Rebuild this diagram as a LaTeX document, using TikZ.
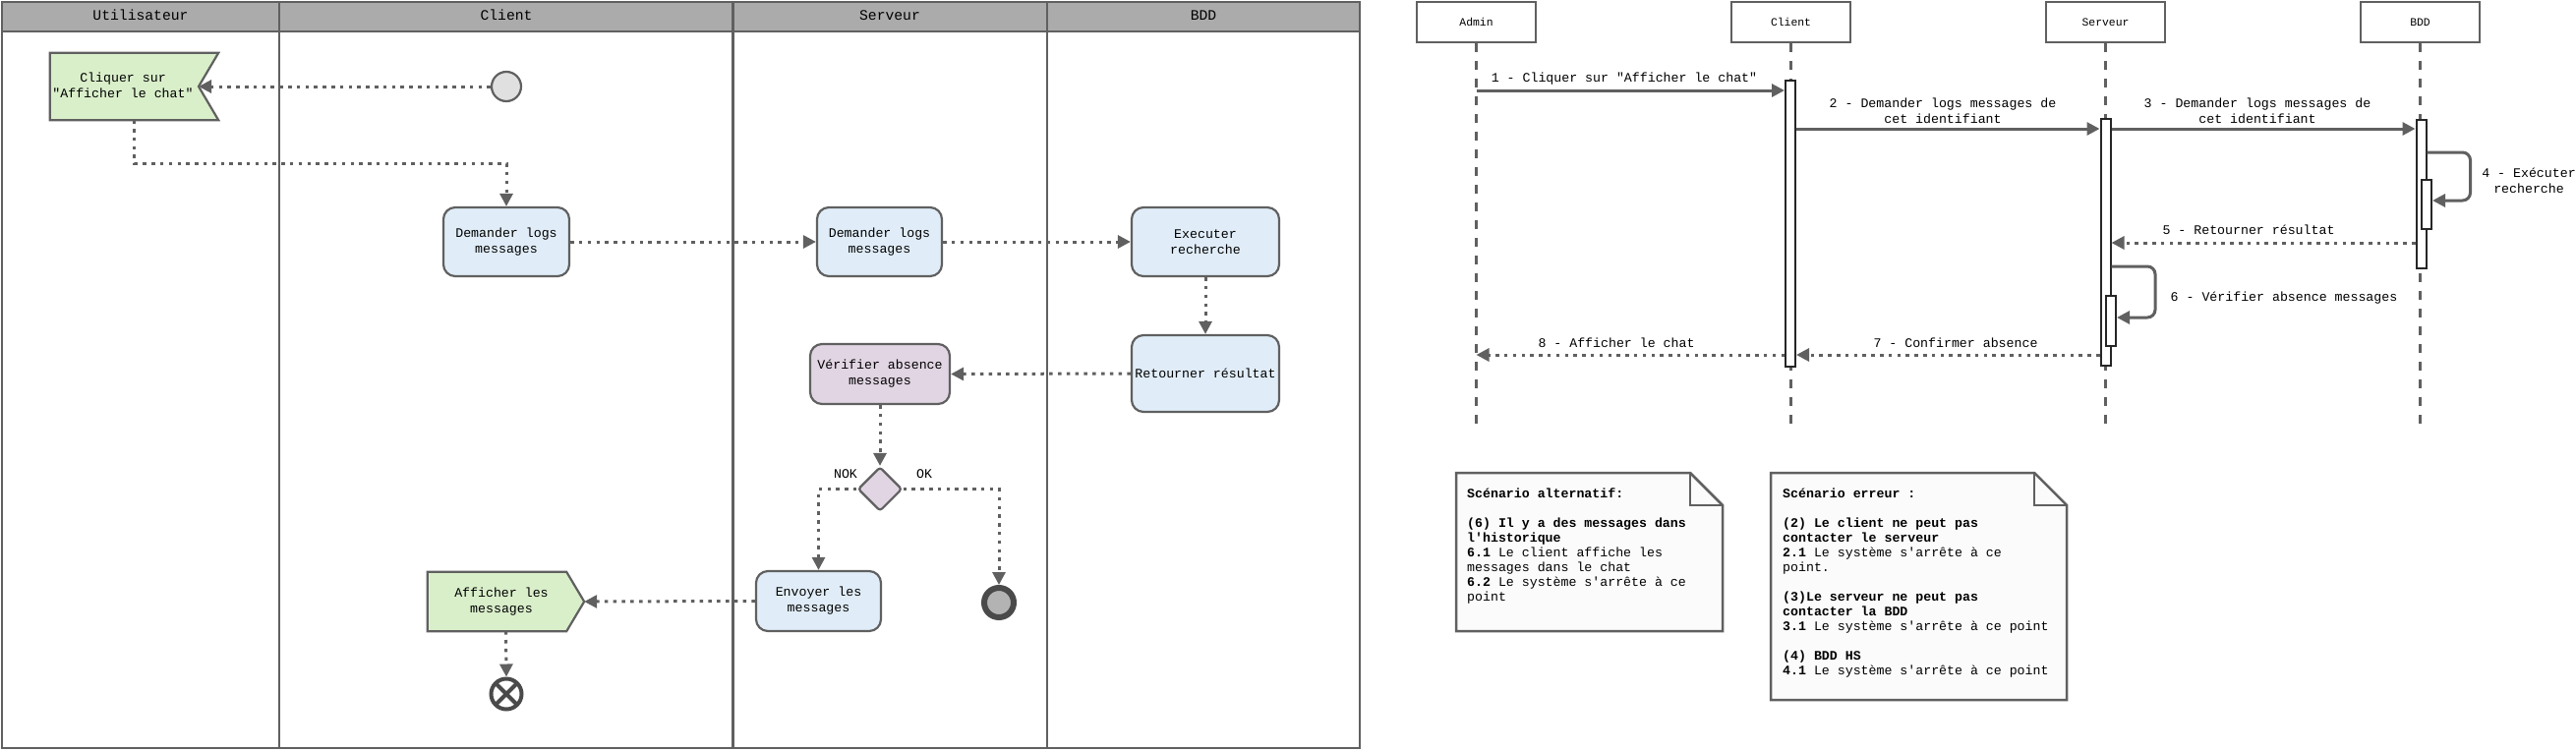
\documentclass[tikz,border=0pt]{standalone}
\usepackage{fontspec}
\newfontfamily\mono{Liberation Mono}
\usetikzlibrary{arrows.meta,shapes.geometric}
\definecolor{ln}{HTML}{606060}
\definecolor{hdr}{HTML}{ABABAB}
\definecolor{grn}{HTML}{D9EFCA}
\definecolor{blu}{HTML}{E0EDF8}
\definecolor{pur}{HTML}{E1D5E3}
\definecolor{stc}{HTML}{E0E0E0}
\definecolor{endc}{HTML}{B3B3B3}
\definecolor{dk}{HTML}{4A4A4A}
\definecolor{notef}{HTML}{FBFBFB}
\begin{document}
\begin{tikzpicture}[x=1pt,y=-1pt,
  every node/.style={font=\mono\fontsize{13.25}{16}\selectfont, text=black},
  lane/.style={draw=ln, line width=2.5pt},
  hdrtxt/.style={font=\mono\fontsize{14.7}{16}\selectfont},
  actbox/.style={rectangle, rounded corners=12pt, draw=ln, line width=2.2pt, fill=blu, align=center, inner sep=0pt},
  gflag/.style={draw=ln, line width=2.2pt, fill=grn},
  flow/.style={draw=ln, line width=3pt, dash pattern=on 3.5pt off 5.3pt, -{Triangle[length=13pt,width=13pt]}},
  part/.style={rectangle, draw=ln, line width=2.5pt, fill=white, minimum width=121pt, minimum height=41pt, inner sep=0pt, font=\mono\fontsize{11.4}{13}\selectfont},
  life/.style={draw=ln, line width=3pt, dash pattern=on 9pt off 9pt},
  bar/.style={rectangle, draw=black!85, fill=white, line width=2pt, minimum width=10pt, inner sep=0pt},
  msg/.style={draw=ln, line width=3pt, -{Triangle[length=13pt,width=13pt]}},
  ret/.style={msg, dash pattern=on 3.5pt off 5.3pt},
  lbl/.style={inner sep=0pt, text height=9pt, text depth=3pt},
  mlbl/.style={inner sep=0pt, align=center},
  notebox/.style={draw=ln, line width=2.5pt, fill=notef},
  notetxt/.style={anchor=base west, inner sep=0pt, font=\mono\fontsize{13.25}{15}\selectfont}
]
\useasboundingbox (0,0) rectangle (2620,763);

% ================= Swimlanes =================
\fill[hdr] (2,2) rectangle (1383,32);
\draw[lane] (2,2) rectangle (1383,761);
\draw[lane] (2,32) -- (1383,32);
\draw[lane] (284,2) -- (284,761);
\draw[lane] (745.5,2) -- (745.5,761);
\draw[lane] (1065,2) -- (1065,761);
\node[hdrtxt, lbl] (hU) at (143,17) {Utilisateur};
\node[hdrtxt, lbl] (hC) at (515,17) {Client};
\node[hdrtxt, lbl] (hS) at (905,17) {Serveur};
\node[hdrtxt, lbl] (hB) at (1224,17) {BDD};

% flag "Cliquer"
\node[minimum width=171pt, minimum height=68pt, inner sep=0pt] (click) at (136.5,88) {};
\coordinate (clicknotch) at (202,88);
\draw[gflag] (click.north west) -- (click.north east) -- (clicknotch) -- (click.south east) -- (click.south west) -- cycle;
\node[mlbl] (clicktxt) at (125,87) {Cliquer sur\\"Afficher le chat"};

% start event
\node[circle, draw=ln, line width=2.2pt, fill=stc, minimum size=30pt, inner sep=0pt] (start) at (515,88) {};

% activities
\node[actbox, minimum width=128pt, minimum height=70pt] (demc) at (515,246) {Demander logs\\messages};
\node[actbox, minimum width=127pt, minimum height=70pt] (dems) at (894.5,246) {Demander logs\\messages};
\node[actbox, minimum width=150pt, minimum height=70pt] (exec) at (1226,246) {Executer\\recherche};
\node[actbox, minimum width=150pt, minimum height=78pt] (ret) at (1226,380) {Retourner résultat};
\node[actbox, fill=pur, minimum width=142pt, minimum height=61pt] (verif) at (895,380.5) {Vérifier absence\\messages};
\node[diamond, draw=ln, line width=2.2pt, fill=pur, minimum width=45pt, minimum height=45pt, inner sep=0pt, rounded corners=3pt] (dia) at (895,497.5) {};
\node[actbox, minimum width=127pt, minimum height=61pt] (env) at (832.5,611.5) {Envoyer les\\messages};
\node[circle, draw=dk, line width=6pt, fill=endc, minimum size=30pt, inner sep=0pt] (endev) at (1016,613) {};

% pentagon "Afficher les messages"
\node[minimum width=159pt, minimum height=60pt, inner sep=0pt] (aff) at (514.5,612) {};
\draw[gflag] (aff.north west) -- ([xshift=-18pt]aff.north east) -- (aff.east) -- ([xshift=-18pt]aff.south east) -- (aff.south west) -- cycle;
\node[mlbl] (afftxt) at (510,612) {Afficher les\\messages};

% terminate event
\node[circle, draw=dk, line width=4pt, fill=white, minimum size=31pt, inner sep=0pt] (term) at (515,706) {};
\draw[dk, line width=4pt] (term.center) +(-11,-11) -- +(11,11);
\draw[dk, line width=4pt] (term.center) +(-11,11) -- +(11,-11);

% labels
\node[lbl] (nok) at (860,483) {NOK};
\node[lbl] (ok) at (940,483) {OK};

% flows
\draw[flow] (start.west) -- (clicknotch);
\draw[flow] (click.south) -- ++(0,44) -| (demc.north);
\draw[flow] (demc.east) -- (dems.west);
\draw[flow] (dems.east) -- (exec.west);
\draw[flow] (exec.south) -- (ret.north);
\draw[flow] (ret.west) -- (verif.east);
\draw[flow] (verif.south) -- (dia.north);
\draw[flow] (dia.west) -| (env.north);
\draw[flow] (dia.east) -| (endev.north);
\draw[flow] (env.west) -- (aff.east);
\draw[flow] (aff.south) -- (term.north);

% ================= Sequence diagram =================
\node[part] (pA) at (1501.5,22.5) {Admin};
\node[part] (pC) at (1821.5,22.5) {Client};
\node[part] (pS) at (2141.5,22.5) {Serveur};
\node[part] (pB) at (2461.5,22.5) {BDD};
\coordinate (eA) at (1501.5,440);
\coordinate (eC) at (1821.5,440);
\coordinate (eS) at (2141.5,440);
\coordinate (eB) at (2461.5,440);
\draw[life] (pA.south) -- (eA);
\draw[life] (pC.south) -- (eC);
\draw[life] (pS.south) -- (eS);
\draw[life] (pB.south) -- (eB);

\node[bar, minimum height=291pt] (cb) at (1821,227.5) {};
\node[bar, minimum height=251pt] (sb) at (2141.5,246.5) {};
\node[bar, minimum height=51pt] (sn) at (2147,326.5) {};
\node[bar, minimum height=151pt] (bb) at (2462.5,197.5) {};
\node[bar, minimum height=50pt] (bn) at (2468,208) {};

\coordinate (a1) at (1501.5,92);
\coordinate (y2) at (0,131);
\coordinate (y4a) at (0,155);
\coordinate (y4b) at (0,204);
\coordinate (y5) at (0,247);
\coordinate (y6a) at (0,271);
\coordinate (y6b) at (0,323);
\coordinate (y7) at (0,361);
\coordinate (a8) at (1501.5,361);

\draw[msg] (a1) -- (cb.west |- a1);
\draw[msg] (cb.east |- y2) -- (sb.west |- y2);
\draw[msg] (sb.east |- y2) -- (bb.west |- y2);
\draw[msg, rounded corners=8pt] (bb.east |- y4a) -- (2512.5,155) -- (2512.5,204) -- (bn.east |- y4b);
\draw[ret] (bb.west |- y5) -- (sb.east |- y5);
\draw[msg, rounded corners=8pt] (sb.east |- y6a) -- (2192,271) -- (2192,323) -- (sn.east |- y6b);
\draw[ret] (sb.west |- y7) -- (cb.east |- y7);
\draw[ret] (cb.west |- y7) -- (a8);

\node[lbl] (l1) at (1652,80) {1 - Cliquer sur "Afficher le chat"};
\node[mlbl] (l2) at (1976,113) {2 - Demander logs messages de\\cet identifiant};
\node[mlbl] (l3) at (2296,113) {3 - Demander logs messages de\\cet identifiant};
\node[mlbl] (l4) at (2572,184) {4 - Exécuter\\recherche};
\node[lbl] (l5) at (2287,235) {5 - Retourner résultat};
\node[lbl] (l6) at (2323,303) {6 - Vérifier absence messages};
\node[lbl] (l7) at (1989,350) {7 - Confirmer absence};
\node[lbl] (l8) at (1644,350) {8 - Afficher le chat};

% notes
\draw[notebox] (1481,481) -- (1719,481) -- (1752,514) -- (1752,642) -- (1481,642) -- cycle;
\draw[notebox, fill=none] (1719,481) -- (1719,514) -- (1752,514);
\node[notetxt] (n1) at (1492,506.5) {\begin{tabular}[t]{@{}l@{}}
\textbf{Scénario alternatif:}\\
\\
\textbf{(6) Il y a des messages dans}\\
\textbf{l'historique}\\
\textbf{6.1} Le client affiche les\\
messages dans le chat\\
\textbf{6.2} Le système s'arrête à ce\\
point
\end{tabular}};

\draw[notebox] (1801,481) -- (2069,481) -- (2102,514) -- (2102,712) -- (1801,712) -- cycle;
\draw[notebox, fill=none] (2069,481) -- (2069,514) -- (2102,514);
\node[notetxt] (n2) at (1813,506.5) {\begin{tabular}[t]{@{}l@{}}
\textbf{Scénario erreur :}\\
\\
\textbf{(2) Le client ne peut pas}\\
\textbf{contacter le serveur}\\
\textbf{2.1} Le système s'arrête à ce\\
point.\\
\\
\textbf{(3)Le serveur ne peut pas}\\
\textbf{contacter la BDD}\\
\textbf{3.1} Le système s'arrête à ce point\\
\\
\textbf{(4) BDD HS}\\
\textbf{4.1} Le système s'arrête à ce point
\end{tabular}};
\end{tikzpicture}
\end{document}
